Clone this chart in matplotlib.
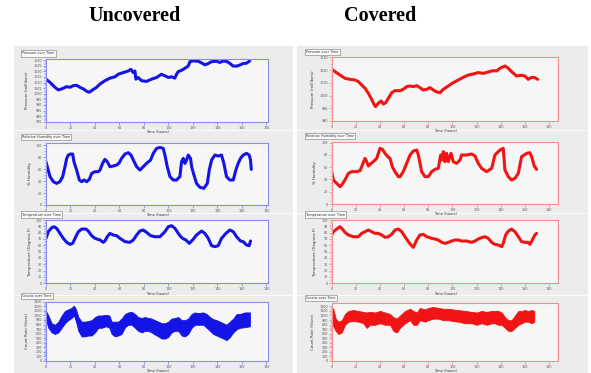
import matplotlib
matplotlib.use("Agg")
import matplotlib.pyplot as plt
from matplotlib.patches import Rectangle

W, H = 591, 373

# ---------------- data ----------------
col_titles = ["Uncovered", "Covered"]
panel_titles = ["Pressure over Time", "Relative Humidity over Time",
                "Temperature over Time", "Counts over Time"]
y_labels = ["Pressure (millibars)", "% Humidity",
            "Temperature (Degrees F)", "Count Rate (h/sec)"]
x_label = "Time (hours)"

# Pressure, uncovered
p_unc_t = [0, 3.3, 7.3, 10, 12.8, 16.9, 19.6, 22.3, 25, 27.7, 30.5, 33.2, 35.4, 38.1, 41.3,
           44, 48.1, 52.2, 56.3, 59, 63.1, 67.2, 69.3, 71.2, 72.6, 73.4, 75.3, 78, 82.1,
           86.2, 90.3, 94.3, 97.1, 99.8, 102.5, 105.2, 106.6, 108, 110.7, 113.4, 116.1,
           117.5, 120.2, 124.3, 127, 129.7, 132.4, 135.1, 139.2, 141.9, 144.6, 147.3, 150,
           152.7, 156, 158.7, 160.9, 163.6, 166.3]
p_unc_v = [1013.0, 1010.1, 1005.7, 1003.4, 1004.3, 1006.3, 1005.7, 1007.2, 1007.5, 1005.7,
           1004.3, 1002.2, 1001.3, 1003.4, 1005.7, 1008.6, 1011.6, 1013.9, 1015.1, 1017.4,
           1018.9, 1020.3, 1021.8, 1018.9, 1020.3, 1013.0, 1014.5, 1011.6, 1011.0, 1013.0,
           1014.5, 1017.4, 1016.0, 1014.5, 1015.1, 1013.9, 1017.4, 1019.8, 1020.9, 1022.7,
           1024.7, 1028.6, 1029.3, 1029.0, 1027.5, 1025.8, 1026.9, 1028.6, 1029.0, 1027.9,
           1029.2, 1028.9, 1027.2, 1024.7, 1024.7, 1025.8, 1027.0, 1027.2, 1029.2]

# Pressure, covered
p_cov_t = [0, 2.8, 6.9, 11, 15.2, 19.3, 22.1, 24.8, 27.6, 30.4, 33.1, 35.3, 36.4, 38.6, 40.9,
           42.8, 44.7, 46.9, 49.7, 52.4, 56.6, 59.3, 62.1, 64.9, 67.6, 70.4, 73.1, 75.9,
           78.7, 81.4, 84.2, 86.9, 89.7, 92.5, 96.6, 100.7, 104.9, 109, 113.2, 117.3, 121.4,
           125.6, 129.7, 133.9, 136.6, 139.4, 143.5, 146.3, 149, 153.2, 157.3, 160.1, 162.8,
           165.6, 168.3, 170.6]
p_cov_v = [1020.6, 1018.7, 1016.1, 1013.5, 1012.7, 1012.2, 1010.9, 1008.3, 1005.7, 1001.7,
           997.0, 992.6, 991.3, 993.9, 995.7, 993.3, 994.4, 997.8, 1002.2, 1003.8, 1003.8,
           1004.9, 1007.0, 1007.5, 1007.0, 1007.7, 1006.2, 1004.3, 1004.9, 1006.2, 1004.3,
           1002.8, 1002.2, 1004.9, 1007.5, 1010.1, 1012.2, 1014.3, 1016.1, 1016.9, 1018.0,
           1017.4, 1018.5, 1019.5, 1019.3, 1021.4, 1023.2, 1021.4, 1018.7, 1015.3, 1015.9,
           1015.3, 1012.7, 1014.3, 1014.0, 1012.7]

# Relative humidity, uncovered
h_unc_t = [0, 1.4, 3.3, 6, 8.7, 11.4, 13.6, 15.5, 16.9, 18.2, 20.1, 21.8, 22.8, 25, 27.2,
           29.1, 31, 33.2, 35.4, 37.3, 40, 42.7, 44.1, 46.2, 48.1, 50, 52.2, 54.9, 57.7,
           59.8, 61.7, 64.5, 67.2, 69.4, 71.3, 74, 76.7, 79.4, 82.1, 85.4, 87.6, 90.3, 93,
           95.7, 97.1, 99, 101.2, 103.9, 106.6, 109.3, 110.7, 112.1, 113.4, 114.8, 116.1,
           118, 118.9, 120.8, 122.9, 125.7, 128.9, 131.7, 133.3, 135.2, 137.9, 140.6, 143.3,
           145.2, 147.4, 150.1, 152.9, 155, 156.9, 158.8, 161, 163.7, 165.9, 167, 167.6]
h_unc_v = [72.3, 61.2, 47.3, 38.9, 36.1, 38.9, 47.3, 63.9, 77.8, 83.4, 85.1, 85.1, 72.3,
           58.4, 41.7, 38.9, 41.7, 38.9, 42.8, 52.8, 55.6, 55.6, 58.4, 69.5, 76.2, 72.3,
           63.9, 65.1, 66.7, 70.6, 77.8, 85.1, 87.3, 83.4, 75.1, 63.9, 58.4, 63.9, 69.5,
           75.1, 86.2, 94.5, 96.2, 94.5, 83.4, 63.9, 47.3, 41.7, 41.7, 47.3, 72.3, 77.8,
           69.5, 75.1, 83.4, 77.8, 63.9, 50.0, 36.1, 29.5, 27.8, 36.1, 58.4, 75.1, 83.4,
           81.7, 83.4, 69.5, 47.3, 41.7, 41.7, 58.4, 69.5, 77.8, 83.4, 86.2, 83.4, 75.1, 59.5]

# Relative humidity, covered
h_cov_t = [0, 1.4, 4.1, 6.9, 8.3, 11, 13.8, 16.6, 20.7, 23.5, 24.8, 27.6, 29, 30.4, 32.6,
           34.5, 37.3, 40, 42, 44.2, 46.4, 48.3, 50.2, 52.4, 55.2, 56.6, 59.3, 62.1, 64.9,
           67.6, 70.4, 71.8, 74.5, 77.3, 80, 82.8, 85.6, 88.3, 90.3, 91.1, 92.5, 93.8, 95.2,
           96.6, 98.8, 100.7, 103.5, 106.3, 107.6, 111.8, 115.9, 118.7, 121.4, 124.2, 128.3,
           132.5, 135.2, 139.4, 142.1, 143.5, 146.3, 149, 151.8, 154.6, 157.3, 161.5, 164.2,
           165.6, 167.8, 169.7]
h_cov_v = [52.7, 39.1, 33.7, 28.2, 31.0, 39.1, 50.0, 52.7, 52.7, 54.3, 60.8, 74.4, 69.0,
           61.9, 66.2, 69.0, 74.4, 90.7, 89.1, 82.5, 77.1, 74.4, 60.8, 52.7, 44.5, 44.5,
           52.7, 66.2, 79.8, 86.3, 88.0, 79.8, 52.7, 44.5, 44.5, 52.7, 56.5, 58.1, 79.8,
           71.7, 85.3, 69.0, 82.5, 69.0, 82.5, 69.0, 66.2, 71.7, 79.8, 79.8, 81.5, 78.2,
           66.2, 58.1, 52.7, 58.1, 79.8, 88.0, 90.7, 55.4, 44.5, 39.1, 41.8, 50.0, 77.1,
           82.5, 83.6, 77.1, 61.9, 56.5]

# Temperature, uncovered
t_unc_t = [0, 1.9, 4.6, 6.5, 8.7, 11.4, 14.1, 16.9, 19.6, 21.8, 23.7, 26.4, 29.1, 32.6,
           34.5, 37.3, 40, 44.1, 46.8, 48.1, 50, 52.2, 54.9, 57.7, 60.4, 64.5, 68.5, 71.3,
           74, 76.7, 79.4, 82.1, 85.4, 88.9, 93, 97.1, 99.8, 102.5, 105.3, 109.3, 111.5,
           114.2, 117, 119.7, 122.9, 127, 129.7, 132.5, 135.2, 137.9, 140.6, 143.3, 146.9,
           150.1, 152.9, 155.6, 158.8, 161, 163.7, 165.9, 167]
t_unc_v = [71.0, 81.5, 87.8, 89.4, 86.8, 78.9, 71.0, 64.7, 61.5, 63.1, 71.0, 81.5, 85.7,
           85.7, 82.6, 75.2, 71.0, 68.4, 64.7, 66.8, 73.6, 78.9, 76.3, 75.2, 71.0, 65.8,
           64.7, 68.4, 76.3, 82.6, 84.2, 80.5, 75.2, 73.6, 73.6, 81.5, 89.4, 91.0, 86.8,
           75.2, 71.0, 68.4, 63.1, 68.4, 76.3, 82.6, 78.9, 71.0, 59.4, 57.9, 59.4, 71.0,
           78.9, 84.2, 81.5, 73.6, 66.8, 65.8, 60.5, 59.4, 66.8]

# Temperature, covered
t_cov_t = [0, 1.4, 4.1, 6.9, 8.3, 11, 13.8, 17.9, 22.1, 24.8, 27.6, 30.4, 33.1, 35.9, 38.6,
           41.4, 44.2, 46.9, 49.7, 52.4, 55.2, 58, 60.7, 63.5, 65.7, 67.6, 70.4, 73.1, 75.9,
           78.7, 82.8, 85.6, 88.3, 91.1, 93.8, 96.6, 99.4, 102.1, 104.9, 107.6, 111.8, 115.9,
           118.7, 121.4, 124.2, 127, 129.7, 132.5, 135.2, 138, 140.8, 142.1, 144.1, 146.3,
           149, 151.8, 154.6, 157.3, 160.1, 162.8, 164.2, 166.2, 168.3, 169.7]
t_cov_v = [76.3, 81.5, 85.7, 89.4, 86.8, 80.5, 76.3, 73.6, 73.6, 78.9, 81.5, 84.2, 81.5,
           78.9, 78.9, 76.3, 72.6, 73.6, 77.3, 84.2, 85.7, 81.5, 73.6, 65.8, 60.5, 56.8,
           68.4, 76.3, 77.3, 73.6, 71.0, 70.0, 68.4, 64.7, 63.1, 64.7, 66.8, 68.4, 68.4,
           66.8, 66.8, 64.7, 66.8, 70.0, 72.1, 73.6, 71.0, 64.7, 61.5, 60.5, 57.9, 63.1,
           76.3, 82.6, 85.7, 81.5, 73.6, 65.8, 64.7, 64.7, 61.5, 68.4, 76.3, 78.9]

# Count rate envelopes (the noisy band): upper and lower edges
c_unc_t = [0, 1.9, 4.6, 7.3, 10.1, 12.8, 15.5, 18.2, 20.9, 22.8, 24.5, 26.4, 29.1, 31.8,
           34.5, 37.3, 40.0, 42.7, 45.4, 49.0, 51.7, 53.6, 56.3, 59.0, 61.7, 64.5, 67.2,
           69.9, 72.6, 75.3, 78.1, 80.8, 83.5, 86.2, 88.9, 91.7, 94.4, 97.1, 99.8, 102.5,
           105.3, 108.0, 110.7, 113.4, 116.1, 118.9, 121.6, 124.3, 128.4, 131.1, 133.8,
           136.5, 139.3, 142.0, 144.7, 147.4, 150.1, 152.9, 155.6, 158.3, 162.4, 166.5]
c_unc_hi = [1099, 998, 829, 795, 863, 998, 1099, 1132, 1166, 1213, 1132, 964, 863, 863,
            876, 896, 964, 998, 998, 1011, 998, 863, 863, 863, 930, 1031, 1065, 1078, 1031,
            964, 944, 964, 944, 930, 896, 863, 829, 829, 863, 930, 944, 964, 896, 896, 930,
            1031, 1065, 1051, 1065, 1031, 964, 917, 896, 863, 829, 795, 863, 930, 1031,
            1031, 1065, 1065]
c_unc_lo = [896, 728, 627, 593, 627, 728, 829, 896, 944, 998, 863, 661, 539, 539, 559, 559,
            627, 728, 728, 762, 728, 593, 539, 559, 593, 741, 795, 795, 728, 661, 627, 661,
            661, 627, 580, 539, 492, 492, 526, 627, 661, 661, 559, 539, 593, 728, 795, 795,
            795, 728, 661, 593, 559, 526, 492, 458, 526, 627, 694, 728, 741, 762]

c_cov_t = [0, 1.4, 3.3, 5.5, 8.3, 11.0, 13.8, 17.9, 22.1, 26.2, 29.0, 31.7, 35.9, 40.0,
           44.2, 48.3, 51.1, 53.8, 56.6, 60.7, 64.9, 67.6, 70.4, 73.1, 77.3, 80.0, 84.2,
           88.3, 92.5, 96.6, 100.7, 104.9, 110.4, 115.9, 120.1, 124.2, 128.3, 132.5, 135.2,
           138.0, 140.8, 143.5, 146.3, 149.0, 151.8, 154.6, 157.3, 160.1, 162.8, 165.6, 167.8]
c_cov_hi = [1200, 1132, 930, 863, 896, 1031, 1099, 1119, 1099, 1078, 1065, 1078, 1065, 1099,
            1065, 1031, 964, 930, 998, 1099, 1146, 1099, 1065, 1166, 1132, 1166, 1186, 1166,
            1146, 1146, 1132, 1119, 1099, 1078, 1065, 1099, 1078, 1099, 1099, 1099, 1065,
            964, 896, 896, 998, 1099, 1099, 1119, 1099, 1119, 1099]
c_cov_lo = [863, 762, 661, 593, 627, 795, 863, 876, 863, 829, 728, 795, 795, 829, 795, 795,
            661, 627, 728, 829, 896, 795, 795, 896, 863, 896, 930, 930, 896, 896, 876, 863,
            829, 829, 795, 829, 795, 829, 829, 795, 795, 728, 661, 661, 728, 795, 829, 863,
            863, 829, 863]

# ---------------- styling ----------------
BLUE = "#1414e6"
RED = "#f01414"
FRAME = {"blue": "#8c8cf0", "red": "#f09090"}
PANEL_BG = "#ececec"
AX_BG = "#f6f6f6"

fig = plt.figure(figsize=(W / 100, H / 100), dpi=100)
fig.patch.set_facecolor("white")


def px_rect(x0, y0, x1, y1):
    return [x0 / W, 1 - y1 / H, (x1 - x0) / W, (y1 - y0) / H]


# panel backgrounds
for (x0, x1) in [(14, 293), (297, 588)]:
    fig.patches.append(Rectangle((x0 / W, 0), (x1 - x0) / W, 1 - 46 / H,
                                 transform=fig.transFigure, fc=PANEL_BG, ec="none",
                                 zorder=-5))
    for ys in [130, 213, 295]:
        fig.patches.append(Rectangle((x0 / W, 1 - (ys + 1) / H), (x1 - x0) / W, 1.2 / H,
                                     transform=fig.transFigure, fc="#fafafa",
                                     ec="none", zorder=-4))

# column headings
fig.text(135 / W, 1 - 16 / H, col_titles[0], ha="center", va="center",
         fontsize=14.5, fontweight="bold", family="Liberation Serif")
fig.text(380 / W, 1 - 16 / H, col_titles[1], ha="center", va="center",
         fontsize=14.5, fontweight="bold", family="Liberation Serif")

# axes geometry: (x0, x1) per column, (y0, y1) per row and column
col_x = [(46, 268.3), (331.7, 558.3)]
row_y = [[(59, 121.7), (57.3, 121)],
         [(142.7, 205), (141.7, 204)],
         [(220, 283.3), (220, 283.3)],
         [(301.7, 361), (303.3, 361)]]
xlims = [(0, 181.5), (0, 187.7)]
ylims = [[(975, 1031), (980, 1030)],
         [(0, 104), (0, 101.5)],
         [(0, 100), (0, 100)],
         [(0, 1300), (0, 1267)]]
ysteps = [[5, 10], [20, 20], [10, 10], [100, 100]]
button_x = [22, 306]

series = [
    [(p_unc_t, p_unc_v), (p_cov_t, p_cov_v)],
    [(h_unc_t, h_unc_v), (h_cov_t, h_cov_v)],
    [(t_unc_t, t_unc_v), (t_cov_t, t_cov_v)],
    [(c_unc_t, c_unc_hi, c_unc_lo), (c_cov_t, c_cov_hi, c_cov_lo)],
]

for r in range(4):
    for c in range(2):
        x0, x1 = col_x[c]
        y0, y1 = row_y[r][c]
        ax = fig.add_axes(px_rect(x0, y0, x1, y1))
        ax.set_facecolor(AX_BG)
        color = BLUE if c == 0 else RED
        fcol = FRAME["blue"] if c == 0 else FRAME["red"]
        data = series[r][c]
        if r < 3:
            ax.plot(data[0], data[1], color=color, lw=2.2, solid_capstyle="round")
        else:
            ax.fill_between(data[0], data[2], data[1], color=color, lw=0.6,
                            edgecolor=color)
        ax.set_xlim(*xlims[c])
        lo, hi = ylims[r][c]
        ax.set_ylim(lo, hi)
        step = ysteps[r][c]
        ticks = []
        v = lo
        while v <= hi + 1e-9:
            ticks.append(v)
            v += step
        ax.set_yticks(ticks)
        ax.set_yticks([t + step / 2 for t in ticks[:-1]] +
                      [t + step / 4 for t in ticks[:-1]] +
                      [t + 3 * step / 4 for t in ticks[:-1]], minor=True)
        ax.set_xticks(list(range(0, 181, 20)))
        for s in ax.spines.values():
            s.set_color(fcol)
            s.set_linewidth(0.8)
        ax.tick_params(axis="both", which="major", labelsize=2.4, length=2,
                       width=0.6, color=fcol, labelcolor="#555555", pad=0.8)
        ax.tick_params(axis="y", which="minor", length=1.2, width=0.4, color=fcol)
        ax.set_ylabel(y_labels[r], fontsize=2.8, color="#333333", labelpad=3)
        ax.set_xlabel(x_label, fontsize=2.6, color="#333333", labelpad=0.4)
        # title "button"
        fig.text(button_x[c] / W, 1 - (y0 - 5.5) / H, panel_titles[r], fontsize=2.4,
                 color="#333333", ha="left", va="center",
                 bbox=dict(boxstyle="square,pad=0.35", fc="#f8f8f8", ec="#777777",
                           lw=0.4))

fig.savefig("out.png", dpi=100)
